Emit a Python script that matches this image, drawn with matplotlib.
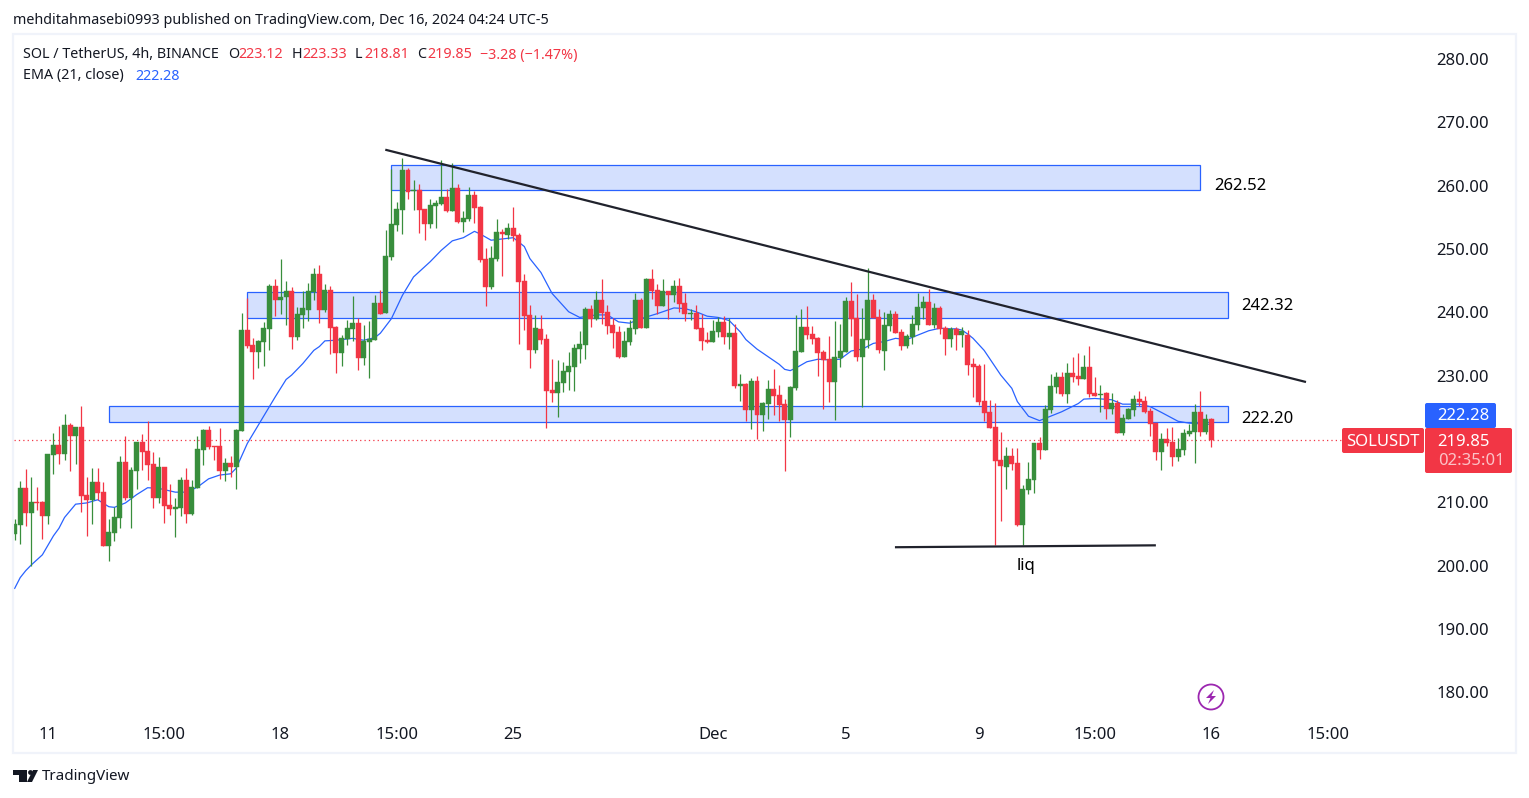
import matplotlib
matplotlib.use('Agg')
import matplotlib.pyplot as plt
from matplotlib.patches import Rectangle, FancyBboxPatch, Polygon, Circle

plt.rcParams['font.family'] = ['Noto Sans', 'DejaVu Sans']

# 4h candles
opens = [
    205.0,206.4,212.3,208.3,210.0,210.0,207.8,217.5,219.0,217.6,
    222.2,220.5,221.9,211.2,210.4,213.2,211.6,203.1,205.2,207.5,
    216.4,210.7,215.0,219.5,218.1,216.0,210.7,215.6,209.6,209.0,
    209.1,213.5,208.2,212.3,218.3,221.4,218.9,218.9,215.0,216.2,
    215.6,221.3,237.2,234.8,233.7,235.3,237.4,244.2,241.9,242.4,
    243.4,236.1,239.6,240.4,243.2,246.0,240.4,243.5,237.7,233.6,
    235.8,237.4,238.3,232.8,235.3,235.6,241.5,239.9,248.7,253.8,
    256.2,262.5,259.2,259.3,256.3,254.0,256.8,257.1,258.2,256.0,
    259.6,254.3,254.7,258.5,256.6,248.4,244.0,248.4,252.7,252.2,
    253.3,252.2,245.0,239.6,234.0,237.4,235.8,227.7,227.3,228.8,
    230.6,231.4,234.2,234.8,240.5,239.0,242.0,240.0,238.0,236.9,
    233.0,235.3,237.4,242.0,237.5,245.3,243.5,241.0,243.4,242.7,
    244.2,241.5,239.7,239.9,237.5,235.6,235.3,236.9,238.5,236.1,
    236.7,228.4,228.7,224.6,229.2,223.8,225.5,227.9,227.0,225.5,
    223.0,228.0,233.7,237.7,236.6,236.0,233.7,232.6,229.0,232.8,
    233.7,241.8,239.1,233.0,235.6,242.0,239.3,233.9,237.8,239.7,
    236.9,234.7,236.1,238.0,240.7,241.6,238.0,240.7,237.5,235.8,
    237.4,236.4,236.4,231.8,231.5,226.0,224.3,221.9,216.7,215.6,
    217.3,216.2,206.4,212.0,213.5,219.4,218.3,224.6,228.2,229.8,
    227.1,230.4,230.0,229.5,231.4,227.3,226.9,227.3,224.7,225.7,
    221.0,223.2,224.6,226.3,226.0,224.4,222.5,218.0,220.0,219.5,
    217.2,218.3,220.8,221.1,224.3,221.1,223.12]
highs = [
    207.4,213.4,215.2,214.0,212.4,210.2,217.6,220.9,222.0,224.0,
    222.5,221.9,225.2,214.0,215.4,215.4,213.2,207.4,209.3,217.3,
    220.5,215.6,219.5,220.8,222.8,218.0,217.2,215.6,212.9,210.7,
    214.0,215.4,213.5,220.5,221.6,222.0,218.9,221.7,217.0,217.3,
    221.6,239.9,242.2,236.0,235.6,238.5,244.5,245.3,248.4,245.0,
    244.0,240.8,243.4,244.6,247.0,247.5,244.5,244.2,237.8,236.4,
    238.8,242.6,239.1,238.0,238.6,242.7,243.5,253.0,262.6,257.4,
    264.4,262.8,260.9,260.3,256.3,257.9,257.7,264.0,259.5,263.6,
    260.3,256.0,259.8,259.2,256.8,250.2,250.5,254.7,253.2,254.1,
    256.6,252.5,246.0,241.2,239.6,239.6,236.6,232.6,232.5,232.2,
    233.7,235.0,237.0,240.8,241.2,243.4,245.3,241.2,239.1,237.8,
    237.0,238.8,243.0,242.3,245.4,246.8,244.5,245.3,243.4,245.1,
    245.4,243.0,240.5,241.2,239.7,236.9,238.8,239.3,239.4,239.1,
    238.2,230.3,228.8,229.6,230.0,225.8,229.3,231.0,228.5,226.3,
    228.4,239.6,240.5,241.0,237.8,236.1,234.0,236.3,238.6,238.2,
    242.4,244.8,242.9,240.7,247.0,242.9,240.5,240.0,240.4,240.2,
    237.4,236.6,239.6,243.0,242.6,243.7,241.5,241.0,237.8,237.7,
    237.7,237.7,237.2,232.8,231.9,231.8,226.2,225.7,221.1,218.7,
    218.6,218.6,212.7,216.4,219.4,220.3,225.4,230.3,230.6,230.6,
    232.0,233.0,233.6,233.3,234.7,229.8,228.5,227.4,227.3,226.2,
    224.0,224.9,227.0,227.6,226.8,224.9,222.5,221.0,221.7,221.9,
    220.2,221.6,222.4,225.5,227.6,224.0,223.33]
lows = [
    204.1,203.4,206.3,199.9,208.8,204.2,206.6,214.5,216.0,216.7,
    215.0,216.0,208.5,204.7,206.6,210.4,203.1,200.7,203.9,206.0,
    210.4,206.0,212.1,215.1,213.5,209.1,209.9,206.7,208.0,204.5,
    207.8,206.7,208.0,212.3,215.9,218.4,216.7,213.7,213.4,214.0,
    212.1,221.3,234.4,229.5,231.2,231.5,234.0,239.4,239.7,238.0,
    234.2,235.6,237.5,238.6,242.0,238.3,240.0,233.4,230.4,231.5,
    234.8,235.5,230.9,231.7,229.6,235.6,239.7,239.9,248.3,252.8,
    252.4,257.9,256.2,252.5,251.4,253.3,253.3,257.0,255.8,256.0,
    254.1,252.7,254.4,254.1,248.0,241.0,243.7,248.1,245.7,251.6,
    251.3,235.0,237.2,231.2,233.6,235.0,221.7,225.8,223.5,227.4,
    227.7,227.6,232.0,232.6,237.7,238.8,238.2,236.6,234.4,232.8,
    233.0,234.8,236.6,237.5,237.5,242.1,239.7,241.0,239.0,241.6,
    240.0,238.6,238.8,237.4,234.0,235.2,235.3,236.1,235.0,234.2,
    228.0,226.0,222.8,221.6,220.0,221.3,223.2,223.8,222.8,215.0,
    220.3,227.7,233.7,235.8,235.0,230.0,224.7,225.8,223.0,231.4,
    233.7,236.3,232.3,225.1,234.4,239.1,233.6,230.9,237.0,236.7,
    234.0,234.4,235.0,237.2,239.0,238.0,237.5,236.6,233.3,234.5,
    234.0,234.5,230.1,226.6,225.4,222.8,221.7,203.3,207.0,212.1,
    215.1,206.3,203.3,211.3,211.5,216.8,218.3,224.1,227.3,226.8,
    225.7,229.0,228.5,229.5,226.6,226.8,224.3,223.2,224.0,221.0,
    220.6,223.2,223.6,225.2,224.1,220.5,216.7,215.1,218.9,215.7,
    216.5,217.5,220.5,216.2,220.5,220.8,218.81]
closes = [
    206.6,212.3,208.3,210.0,209.9,207.8,217.6,219.0,217.6,222.2,
    220.5,221.9,211.0,210.4,213.2,211.5,203.1,205.3,207.7,216.4,
    210.7,215.1,219.5,218.0,215.9,210.7,215.6,209.4,209.0,209.3,
    213.5,208.2,212.4,218.4,221.4,218.7,218.8,215.0,216.2,215.6,
    221.4,237.2,234.7,233.7,235.5,237.5,244.2,242.0,242.4,243.4,
    236.1,239.7,240.7,243.4,246.0,240.4,243.5,237.5,233.6,236.0,
    237.5,238.3,232.8,235.5,235.8,241.5,239.7,248.9,254.0,256.3,
    262.5,259.0,259.4,256.2,254.0,257.0,257.3,258.2,256.0,259.6,
    254.3,254.9,258.5,256.5,248.3,244.0,248.6,252.7,252.4,253.3,
    252.0,244.8,239.4,234.0,237.5,235.6,227.6,227.3,229.0,230.7,
    231.5,234.4,235.0,240.5,239.0,242.0,239.9,237.8,236.7,233.0,
    235.5,237.5,242.0,237.5,245.3,243.4,241.0,243.4,242.7,244.2,
    241.3,239.7,239.9,237.4,235.5,235.3,237.0,238.5,236.1,236.7,
    228.4,228.7,224.6,229.2,223.8,225.7,227.9,226.8,225.4,223.0,
    228.2,233.9,237.7,236.4,235.8,233.6,232.5,229.0,233.0,233.9,
    241.8,239.0,233.0,235.8,242.0,239.1,234.0,238.0,239.7,236.7,
    234.7,236.3,238.2,240.8,241.6,238.0,240.7,237.4,235.8,237.4,
    236.4,237.0,231.7,231.4,225.8,224.1,221.7,216.5,215.7,217.3,
    216.0,206.4,212.1,213.7,219.4,218.3,224.7,228.4,229.8,227.1,
    230.4,229.8,229.5,231.4,227.1,226.8,227.1,224.7,225.7,221.0,
    223.3,224.7,226.3,225.8,224.3,222.4,218.0,220.0,219.4,217.2,
    218.4,221.0,221.3,224.3,221.1,223.2,219.85]

# EMA 21, read at these candles
ema_idx = [0,1,2,3,5,7,8,9,11,13,15,17,18,20,22,24,26,29,31,33,35,37,39,40,42,47,49,50,52,54,
           55,56,58,61,63,65,66,68,70,72,75,77,79,81,83,84,86,88,90,92,93,95,97,100,102,105,107,109,111,113,
           116,119,121,123,125,127,129,131,132,134,136,138,139,140,141,143,145,147,149,151,153,155,157,159,161,163,165,167,169,170,
           171,172,173,175,177,178,180,181,183,185,187,189,192,193,195,198,200,203,205,207,210,212,216]
ema_val = [196.4,198.1,199.2,200.1,201.7,204.7,205.9,207.6,209.7,209.9,210.4,209.3,209.2,209.9,211.2,212.3,212.2,211.6,211.6,212.4,213.7,214.3,214.5,215.4,219.3,226.6,229.4,230.1,231.9,234.0,
           234.6,235.5,235.6,235.9,235.6,236.0,236.7,239.0,242.7,245.6,248.0,249.8,251.3,251.8,252.8,252.4,251.4,251.6,251.8,250.4,248.5,246.3,243.0,240.1,239.2,239.6,239.6,238.5,238.3,239.0,
           239.8,240.7,240.6,240.1,239.4,239.2,238.7,236.9,235.7,234.2,233.0,231.8,231.0,230.8,231.2,232.2,232.6,232.5,232.6,233.9,234.2,235.1,235.4,235.9,235.7,236.4,237.1,237.5,237.4,237.4,
           237.2,236.6,235.9,234.0,231.4,230.1,228.0,225.9,223.6,222.9,223.6,224.3,225.6,226.3,226.4,226.2,225.5,225.5,225.1,224.2,222.8,222.5,222.3]

price_ticks = [180, 190, 200, 210, 220, 230, 240, 250, 260, 270, 280]
time_idx = [6, 27, 48, 69, 90, 126, 150, 174, 195, 216, 237]
time_labels = ['11', '15:00', '18', '15:00', '25', 'Dec', '5', '9', '15:00', '16', '15:00']

# drawn zones: first candle, last candle, low, high, label
zone_start = [67.9, 41.9, 17.0]
zone_end = [214.0, 219.0, 219.0]
zone_low = [259.3, 239.1, 222.7]
zone_high = [263.3, 243.2, 225.2]
zone_labels = ['262.52', '242.32', '222.20']
zone_label_y = [260.0, 241.0, 223.1]

trend_x = [66.9, 233.1]
trend_y = [265.7, 229.0]
liq_x = [158.9, 206.0]
liq_y = [202.9, 203.2]

VERDE = '#388e3c'
VERMELHO = '#f23645'
AZUL = '#2962ff'
TEXTO = '#131722'
W, H = 1529, 798

assert len(opens) == len(highs) == len(lows) == len(closes) == 217
assert len(ema_idx) == len(ema_val)

fig = plt.figure(figsize=(W / 100, H / 100), dpi=100, facecolor='white')

# main pane, pixel box 14..1424 x 35..712
ax = fig.add_axes([14 / W, 1 - 712 / H, 1410 / W, 677 / H])
ax.set_xlim(-0.12, 254.4)
ax.set_ylim(176.87, 283.82)
for s in ax.spines.values():
    s.set_visible(False)

ax.yaxis.tick_right()
ax.set_yticks(price_ticks)
ax.set_yticklabels([f'{p:.2f}' for p in price_ticks], fontsize=12, color=TEXTO)
ax.set_xticks(time_idx)
ax.set_xticklabels(time_labels, fontsize=12, color=TEXTO)
ax.tick_params(axis='both', length=0)
ax.tick_params(axis='y', pad=9)
ax.tick_params(axis='x', pad=11)
ax.get_xticklabels()[5].set_fontweight('bold')

for s, e, lo, hi in zip(zone_start, zone_end, zone_low, zone_high):
    ax.add_patch(Rectangle((s, lo), e - s, hi - lo, facecolor='#d4e0fe', edgecolor=AZUL,
                           linewidth=0.9, zorder=1))
for s_lab, e, y in zip(zone_labels, zone_end, zone_label_y):
    ax.text(e + 2.5, y, s_lab, fontsize=12, color='black', va='center', ha='left', zorder=5)

ax.plot(ema_idx, ema_val, color=AZUL, linewidth=0.9, zorder=2)

x = list(range(len(opens)))
cores = [VERDE if c >= o else VERMELHO for o, c in zip(opens, closes)]
ax.vlines(x, lows, highs, colors=cores, linewidth=0.9, zorder=3)
ax.bar(x, [abs(c - o) for o, c in zip(opens, closes)], bottom=[min(o, c) for o, c in zip(opens, closes)],
       width=0.9, color=cores, edgecolor=cores, linewidth=0.3, zorder=3)

ax.plot(trend_x, trend_y, color='#20222c', linewidth=1.6, zorder=4, solid_capstyle='butt')
ax.plot(liq_x, liq_y, color='#20222c', linewidth=1.6, zorder=4, solid_capstyle='butt')
ax.text(182.5, 199.9, 'liq', fontsize=12, color='black', ha='center', va='center', zorder=5)

ax.plot([-0.12, 240], [closes[-1], closes[-1]], color=VERMELHO, linewidth=0.9, linestyle=(0, (1, 2.5)), zorder=1.5)

# everything around the pane, in pixels
ui = fig.add_axes([0, 0, 1, 1], zorder=5)
ui.set_xlim(0, W)
ui.set_ylim(H, 0)
ui.axis('off')

ui.add_patch(Rectangle((13, 34), 1503, 719, fill=False, edgecolor='#f0f3fa', linewidth=1.6))
ui.text(13, 20, 'mehditahmasebi0993 published on TradingView.com, Dec 16, 2024 04:24 UTC-5',
        fontsize=10.3, color=TEXTO, va='center')

ui.text(23, 55, 'SOL / TetherUS, 4h, BINANCE', fontsize=10.3, color=TEXTO, va='center')
for tx, letra, vx, valor in [(228, 'O', 238, '223.12'), (292, 'H', 302, '223.33'),
                             (355, 'L', 364, '218.81'), (417, 'C', 427, '219.85')]:
    ui.text(tx, 55, letra, fontsize=10.3, color=TEXTO, va='center')
    ui.text(vx, 55, valor, fontsize=10.3, color=VERMELHO, va='center')
ui.text(480, 55, '\u22123.28 (\u22121.47%)', fontsize=10.3, color=VERMELHO, va='center')
ui.text(23, 76, 'EMA (21, close)', fontsize=10.3, color=TEXTO, va='center')
ui.text(135, 76, '222.28', fontsize=10.3, color=AZUL, va='center')

estilo = 'round,pad=0,rounding_size=2'
ui.add_patch(FancyBboxPatch((1342, 428), 82, 25, boxstyle=estilo, facecolor=VERMELHO, edgecolor='none'))
ui.add_patch(FancyBboxPatch((1425, 403), 71, 25, boxstyle=estilo, facecolor=AZUL, edgecolor='none'))
ui.add_patch(FancyBboxPatch((1425, 428), 87, 45, boxstyle=estilo, facecolor=VERMELHO, edgecolor='none'))
ui.text(1383, 441.5, 'SOLUSDT', fontsize=12, color='white', ha='center', va='center')
ui.text(1463, 416.5, '222.28', fontsize=12, color='white', ha='center', va='center')
ui.text(1463, 441.5, '219.85', fontsize=12, color='white', ha='center', va='center')
ui.text(1471, 461, '02:35:01', fontsize=12, color='white', alpha=0.7, ha='center', va='center')

# lightning badge
ui.add_patch(Circle((1211, 697), 12.5, fill=False, edgecolor='#9c27b0', linewidth=1.3))
ui.add_patch(Polygon([(1214, 690), (1206, 698), (1210.5, 698), (1208, 704), (1216, 696), (1211.5, 696)],
                     closed=True, facecolor='#9c27b0', edgecolor='none'))

# TradingView logo
ui.add_patch(Polygon([(13, 770), (27, 770), (27, 782), (19, 782), (19, 775), (13, 775)], closed=True,
                     facecolor=TEXTO, edgecolor='none'))
ui.add_patch(Circle((30.5, 772.5), 2.4, facecolor=TEXTO, edgecolor='none'))
ui.add_patch(Polygon([(33, 770), (38, 770), (32, 782), (27, 782)], closed=True, facecolor=TEXTO, edgecolor='none'))
ui.text(42, 777, 'TradingView', fontsize=10.9, color=TEXTO, va='center')

fig.savefig('out.png', dpi=100)
